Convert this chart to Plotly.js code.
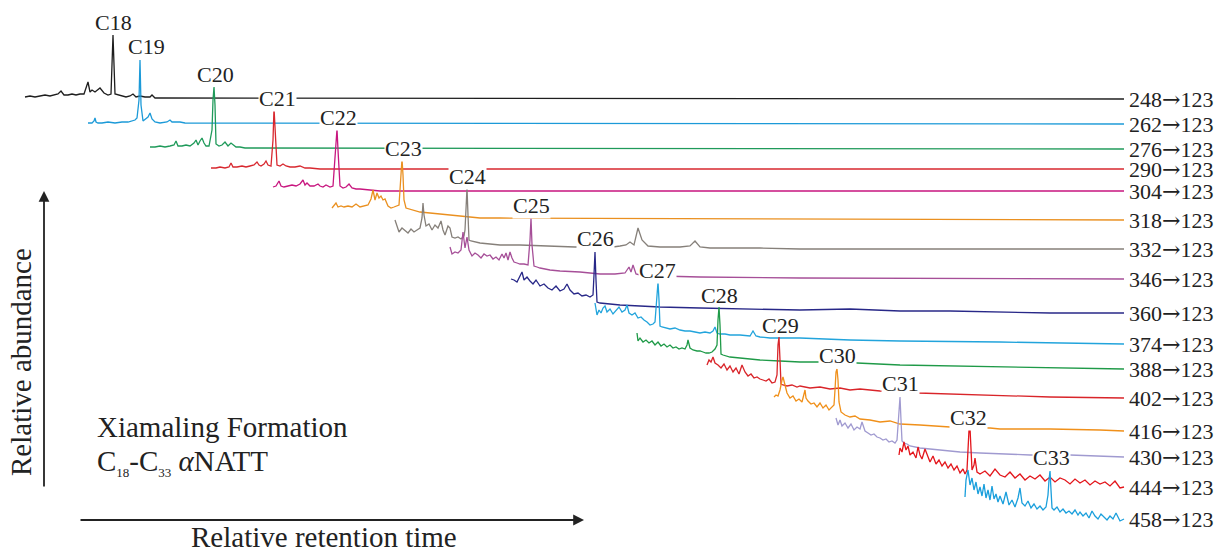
<!DOCTYPE html>
<html><head><meta charset="utf-8">
<script src="https://cdn.plot.ly/plotly-3.0.1.min.js"></script>
<style>html,body{margin:0;padding:0;background:#fff}#chart{width:1221px;height:551px}</style>
</head><body><div id="chart"></div>
<script>
// m/z transitions (right-hand labels), compound names and trace colours
const ionParent = ['248','262','276','290','304','318','332','346','360','374','388','402','416','430','444','458'];
const ionDaughter = '123';
const peaks = ['C18','C19','C20','C21','C22','C23','C24','C25','C26','C27','C28','C29','C30','C31','C32','C33'];
const colors = ['#1e1e1e','#1c9ad8','#1f9a5a','#d8282f','#c8167f','#ea9020','#86807a','#a64f98',
                '#282888','#22a4dc','#1f9a48','#d9252a','#f0901a','#a09ad0','#e3161c','#1a9fdc'];

// retention time (x) and stacked signal level (y, drawn downward) for each trace
const x248 = [25,30,35,40,45,50,55,58,61,64,68,72,76,80,84,86,88,90,92,95,98,100,104,108,111,113,115,118,122,126,130,133,136,140,145,150,152,155,160,1124];
const y248 = [97,96,97,96,95,96,95,94,91,95,95,94,95,94,94,88,82,92,90,92,89,88,93,95,94,35,94,95,96,97,96,94,97,96,97,97,95,98,98,99];

const x262 = [88,92,94,95,96,98,102,108,115,122,128,132,135,137,139,140,141,143,146,148,150,152,155,160,167,170,172,176,180,185,1124];
const y262 = [123,123,121,118,122,123,123,122,123,122,122,121,120,118,100,60,105,121,119,117,113,119,122,123,122,120,122,122,122,123,124];

const x276 = [150,155,160,165,170,174,176,178,182,186,190,194,196,198,200,202,204,206,209,212,213,214,215,216,219,222,225,228,231,233,236,240,245,250,1124];
const y276 = [147,147,146,147,146,145,141,146,146,145,146,143,140,145,141,138,143,146,146,130,100,87,105,144,146,145,142,146,143,145,147,147,148,148,149];

const x290 = [211,216,220,225,229,231,233,237,242,246,250,254,257,259,261,264,266,268,271,273,274,275,277,280,283,286,290,295,300,305,310,320,330,1124];
const y290 = [168,168,167,168,167,163,167,167,166,167,166,165,162,165,166,164,161,165,166,140,108,130,165,166,164,166,167,167,166,168,168,169,169,169];

const x304 = [273,276,279,281,284,288,292,296,300,303,305,307,310,314,318,320,323,326,330,333,335,336,337,338,340,343,346,349,352,356,360,370,380,1124];
const y304 = [187,186,181,186,187,186,185,186,184,180,185,183,186,186,184,186,187,185,187,186,160,140,129,150,186,188,187,184,188,189,189,190,191,191];

const x318 = [332,334,336,338,341,344,348,352,356,360,364,368,371,373,375,377,379,381,383,385,388,391,394,397,399,400,401,402,403,404,406,410,415,420,430,440,450,460,470,480,500,1124];
const y318 = [208,205,203,207,206,207,206,207,204,207,206,205,199,190,200,193,198,196,200,199,206,208,207,206,205,190,170,159,175,200,208,209,211,212,213,214,215,216,217,218,218,220];

const x332 = [395,397,399,402,405,408,411,414,417,420,422,423,424,426,429,432,435,438,441,443,445,448,450,452,455,458,461,464,465,466,467,468,469,471,475,480,490,500,520,540,560,575,600,613,620,626,630,634,638,642,648,660,680,690,695,700,710,730,760,800,1124];
const y332 = [220,226,232,228,231,233,229,232,230,228,218,203,215,226,224,230,225,228,221,230,235,226,228,237,238,237,239,236,230,210,188,215,240,241,242,243,244,245,245,246,247,247,247,247,246,245,242,245,228,240,246,247,247,246,241,247,248,248,248,249,249];

const x346 = [450,452,455,458,461,463,465,467,469,472,475,478,481,484,487,490,493,496,499,502,504,506,508,510,512,514,517,520,524,528,530,531,532,534,537,540,550,560,580,600,615,625,629,631,633,636,640,660,700,800,1124];
const y346 = [247,254,252,253,250,232,248,237,250,256,253,255,258,254,256,255,259,257,260,254,258,253,260,252,258,262,263,264,264,265,240,218,245,266,267,268,270,271,272,274,274,273,267,272,265,274,275,276,277,278,279];

const x360 = [511,514,517,520,522,524,527,530,533,536,540,544,548,552,556,560,564,567,570,574,578,582,586,590,593,594,595,596,597,600,610,620,640,660,700,750,800,850,900,950,1000,1050,1124];
const y360 = [279,280,282,275,272,280,277,281,284,280,286,284,288,290,286,291,289,284,290,294,293,296,295,297,295,275,252,280,302,303,304,305,306,307,308,309,310,309,311,311,312,313,313];

const x374 = [595,597,599,601,603,605,607,610,613,616,619,622,625,627,629,632,635,638,641,644,647,650,653,655,656,657,658,659,660,662,665,670,675,680,685,690,695,700,705,710,713,715,717,720,725,730,740,750,753,756,760,770,800,850,900,1000,1124];
const y374 = [303,315,310,313,308,306,312,309,314,311,307,312,310,305,313,315,313,318,317,320,322,325,324,322,310,290,282,300,326,327,328,329,328,330,331,331,332,333,332,333,331,327,333,334,334,335,335,336,331,336,337,338,338,340,341,342,344];

const x388 = [637,638,640,643,646,649,652,655,658,661,664,667,670,673,676,679,682,685,687,688,690,693,697,700,703,706,709,712,715,717,718,719,720,721,723,726,730,740,760,780,800,818,857,900,950,1000,1050,1124];
const y388 = [333,341,338,342,340,343,341,345,342,346,344,347,345,348,347,349,348,349,345,340,348,350,351,351,352,353,353,352,349,345,320,307,325,354,355,356,357,358,360,361,362,362,363,365,366,367,368,369];

const x402 = [707,709,711,713,715,718,721,724,727,730,733,736,739,742,745,748,751,754,757,760,763,766,769,772,775,777,778,779,780,781,783,787,792,797,800,810,820,830,840,850,860,870,880,918,950,1000,1050,1124];
const y402 = [365,360,362,357,363,365,368,364,370,366,372,368,374,365,372,376,374,378,377,379,380,381,379,383,382,375,345,337,360,384,385,386,385,387,386,388,387,389,388,390,389,390,391,393,394,395,397,398];

const x416 = [774,776,778,780,782,783,785,787,790,793,796,799,802,804,805,806,808,811,814,817,820,823,826,829,832,834,835,836,837,838,839,841,845,850,855,860,870,880,890,900,920,940,950,960,990,1000,1050,1100,1124];
const y416 = [397,395,396,390,380,377,385,393,398,396,401,399,402,392,390,398,401,404,403,407,403,408,405,410,407,405,390,372,369,380,402,412,415,417,416,419,420,422,421,424,425,426,427,428,428,429,429,430,431];

const x430 = [836,838,840,842,845,848,851,854,857,860,862,863,865,868,871,874,877,880,883,886,889,892,895,897,899,900,901,902,904,907,910,920,930,940,950,960,980,1000,1030,1070,1100,1124];
const y430 = [418,425,420,426,423,428,424,430,427,429,422,425,431,433,435,434,437,438,440,439,442,441,443,440,415,397,420,441,443,444,446,448,449,450,451,452,453,454,455,455,456,457];

const x444 = [899,900,902,904,906,908,910,913,916,918,920,922,925,928,930,933,936,939,942,945,948,951,954,957,960,963,965,967,968,969,970,971,972,974,975,977,980,985,990,995,1000,1005,1010,1015,1020,1025,1030,1035,1040,1045,1050,1055,1060,1065,1070,1075,1080,1085,1090,1095,1100,1105,1110,1115,1120,1124];
const y444 = [455,448,452,442,450,446,455,452,458,447,455,459,449,458,462,456,464,460,466,462,468,464,470,466,473,469,474,470,455,430,428,450,470,465,458,472,474,471,476,469,475,477,472,478,474,480,476,479,475,481,477,482,478,480,484,479,483,480,485,481,484,482,486,481,488,487];

const x458 = [965,966,968,970,972,974,976,978,980,982,984,986,988,990,992,994,996,998,1000,1003,1006,1009,1012,1015,1018,1020,1022,1025,1028,1031,1034,1037,1040,1043,1046,1048,1049,1050,1051,1052,1054,1057,1060,1063,1066,1069,1072,1075,1078,1080,1083,1086,1089,1092,1095,1098,1101,1104,1107,1110,1113,1116,1120,1124];
const y458 = [497,480,470,485,478,490,482,494,487,496,484,498,490,500,486,499,494,502,496,504,492,505,500,507,498,488,503,506,501,508,504,509,506,510,507,495,480,471,490,508,510,507,512,509,513,511,514,510,515,512,516,513,518,511,516,519,514,517,520,516,519,513,521,519];

const series = [[x248,y248],[x262,y262],[x276,y276],[x290,y290],[x304,y304],[x318,y318],[x332,y332],[x346,y346],
                [x360,y360],[x374,y374],[x388,y388],[x402,y402],[x416,y416],[x430,y430],[x444,y444],[x458,y458]];

// layout: where each compound label sits, and whether it masks the line behind it
const labelPos = [[113,22],[146,46],[215,74],[277,98],[338,117],[403,148],[467,176],[531,205],
                  [595,238],[657,270],[719,295],[780,325],[837,355],[900,383],[968,417],[1051,457]];
const labelMask = [false,false,false,true,true,true,true,true,true,true,false,false,true,true,true,true];

const FONT = 'Liberation Serif, Times New Roman, serif';
const ARROW = '<span style="font-family:DejaVu Serif">→</span>';
const traces = series.map((s, i) => ({
  type: 'scatter', mode: 'lines', x: s[0], y: s[1],
  line: {color: colors[i], width: 1.3}, hoverinfo: 'skip'
}));

const annotations = [];
series.forEach((s, i) => {
  annotations.push({x: s[0][s[0].length-1] + 3, y: s[1][s[1].length-1], xref: 'x', yref: 'y',
    text: ionParent[i] + ARROW + ionDaughter, showarrow: false, xanchor: 'left', yanchor: 'middle',
    font: {family: FONT, size: 22, color: '#222'}});
  annotations.push({x: labelPos[i][0], y: labelPos[i][1], xref: 'x', yref: 'y',
    text: peaks[i], showarrow: false, xanchor: 'center', yanchor: 'middle',
    bgcolor: labelMask[i] ? '#ffffff' : 'rgba(0,0,0,0)', borderpad: 0,
    font: {family: FONT, size: 22, color: '#222'}});
});
// axis arrows
annotations.push({x: 44, y: 191, ax: 44, ay: 488, xref: 'x', yref: 'y', axref: 'x', ayref: 'y',
  text: '', showarrow: true, arrowhead: 2, arrowsize: 1.2, arrowwidth: 1.8, arrowcolor: '#222'});
annotations.push({x: 584, y: 520, ax: 79, ay: 520, xref: 'x', yref: 'y', axref: 'x', ayref: 'y',
  text: '', showarrow: true, arrowhead: 2, arrowsize: 1.2, arrowwidth: 1.8, arrowcolor: '#222'});
annotations.push({x: 21, y: 362, xref: 'x', yref: 'y', text: 'Relative abundance', textangle: -90,
  showarrow: false, font: {family: FONT, size: 29, color: '#222'}});
annotations.push({x: 324, y: 537, xref: 'x', yref: 'y', text: 'Relative retention time',
  showarrow: false, font: {family: FONT, size: 29, color: '#222'}});
annotations.push({x: 95, y: 427, xref: 'x', yref: 'y', text: 'Xiamaling Formation', xanchor: 'left',
  showarrow: false, font: {family: FONT, size: 29, color: '#222'}});
annotations.push({x: 95, y: 462, xref: 'x', yref: 'y',
  text: 'C<sub><span style="font-size:13px">18</span></sub>-C<sub><span style="font-size:13px">33</span></sub> <i>α</i>NATT', xanchor: 'left',
  showarrow: false, font: {family: FONT, size: 29, color: '#222'}});

const layout = {
  width: 1221, height: 551, margin: {l: 0, r: 0, t: 0, b: 0},
  paper_bgcolor: '#fff', plot_bgcolor: '#fff', showlegend: false,
  xaxis: {range: [0, 1221], visible: false, fixedrange: true},
  yaxis: {range: [551, 0], visible: false, fixedrange: true},
  annotations: annotations
};
Plotly.newPlot('chart', traces, layout, {displayModeBar: false, staticPlot: true});
</script></body></html>
